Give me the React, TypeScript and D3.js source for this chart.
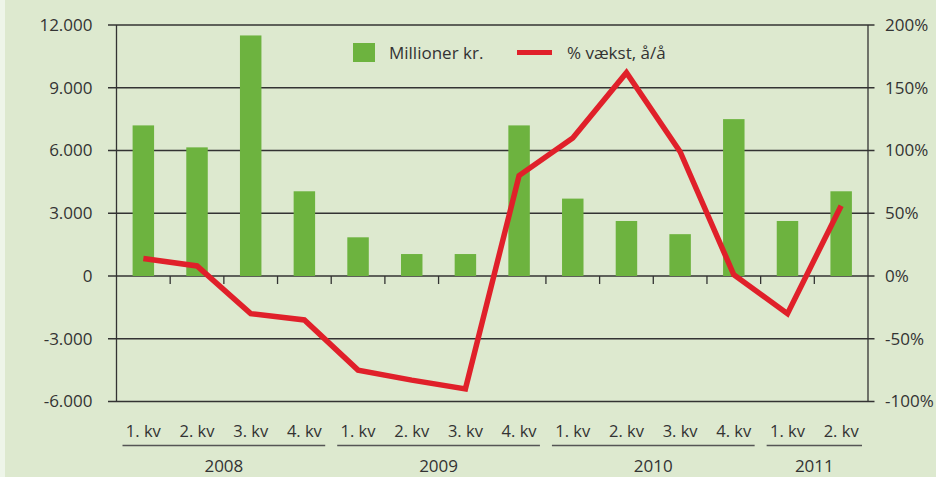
import React, { useRef, useEffect } from "react";
import * as d3 from "d3";

// quarterly data 2008 Q1 - 2011 Q2
const quarters = ["1. kv", "2. kv", "3. kv", "4. kv", "1. kv", "2. kv", "3. kv", "4. kv", "1. kv", "2. kv", "3. kv", "4. kv", "1. kv", "2. kv"];
const years = [
  { label: "2008", from: 0, to: 3 },
  { label: "2009", from: 4, to: 7 },
  { label: "2010", from: 8, to: 11 },
  { label: "2011", from: 12, to: 13 },
];
const millioner = [7200, 6150, 11500, 4050, 1850, 1050, 1050, 7200, 3700, 2630, 2000, 7500, 2630, 4050];
const vaekst = [14, 8, -30, -35, -75, -83, -90, 80, 110, 162, 99, 1, -30, 56];
const leftTicks = [-6000, -3000, 0, 3000, 6000, 9000, 12000];
const rightTicks = [-100, -50, 0, 50, 100, 150, 200];

const W = 936;
const H = 477;

function App() {
  const svgRef = useRef<SVGSVGElement>(null);

  useEffect(() => {
    const svg = d3.select(svgRef.current);
    svg.selectAll("*").remove();

    const margin = { top: 25, right: 68, bottom: 75.5, left: 116.5 };
    const innerW = W - margin.left - margin.right;
    const innerH = H - margin.top - margin.bottom;
    const font = "'Open Sans', 'Noto Sans', sans-serif";
    const ink = "#333";

    svg.append("rect").attr("width", W).attr("height", H).attr("fill", "#dde9cf");
    svg.append("rect").attr("width", 5).attr("height", H).attr("fill", "#eef5e9");

    const x = d3.scaleBand<number>().domain(d3.range(quarters.length)).range([0, innerW]).paddingInner(0.6).paddingOuter(0.3);
    const step = innerW / quarters.length;
    const yL = d3.scaleLinear().domain([-6000, 12000]).range([innerH, 0]);
    const yR = d3.scaleLinear().domain([-100, 200]).range([innerH, 0]);

    const g = svg.append("g").attr("transform", `translate(${margin.left},${margin.top})`);

    // gridlines
    g.selectAll(".grid")
      .data(leftTicks)
      .enter()
      .append("line")
      .attr("x1", -8.5)
      .attr("x2", innerW + 6.5)
      .attr("y1", (d) => yL(d))
      .attr("y2", (d) => yL(d))
      .attr("stroke", ink)
      .attr("stroke-width", 1.3);

    // axes verticals
    g.append("line").attr("x1", 0).attr("x2", 0).attr("y1", 0).attr("y2", innerH).attr("stroke", ink).attr("stroke-width", 1.3);
    g.append("line").attr("x1", innerW).attr("x2", innerW).attr("y1", 0).attr("y2", innerH).attr("stroke", ink).attr("stroke-width", 1.3);

    // category ticks on zero line
    g.selectAll(".ctick")
      .data(d3.range(1, quarters.length))
      .enter()
      .append("line")
      .attr("x1", (d) => d * step)
      .attr("x2", (d) => d * step)
      .attr("y1", yL(0))
      .attr("y2", yL(0) + 8)
      .attr("stroke", ink)
      .attr("stroke-width", 1.3);

    // bars
    g.selectAll(".bar")
      .data(millioner)
      .enter()
      .append("rect")
      .attr("x", (d, i) => x(i)!)
      .attr("width", x.bandwidth())
      .attr("y", (d) => yL(d))
      .attr("height", (d) => yL(0) - yL(d))
      .attr("fill", "#6db33f");

    // growth line
    const line = d3
      .line<number>()
      .x((d, i) => x(i)! + x.bandwidth() / 2)
      .y((d) => yR(d));
    g.append("path")
      .datum(vaekst)
      .attr("d", line)
      .attr("fill", "none")
      .attr("stroke", "#e0202a")
      .attr("stroke-width", 5.5)
      .attr("stroke-linejoin", "miter");

    // left tick labels
    g.selectAll(".ll")
      .data(leftTicks)
      .enter()
      .append("text")
      .attr("x", -24)
      .attr("y", (d) => yL(d))
      .attr("dy", "0.35em")
      .attr("text-anchor", "end")
      .attr("font-family", font)
      .attr("font-size", 17)
      .attr("fill", ink)
      .text((d) => d3.format(",")(d).replace(/,/g, ".").replace("−", "-"));

    // right tick labels
    g.selectAll(".rl")
      .data(rightTicks)
      .enter()
      .append("text")
      .attr("x", innerW + 17)
      .attr("y", (d) => yR(d))
      .attr("dy", "0.35em")
      .attr("text-anchor", "start")
      .attr("font-family", font)
      .attr("font-size", 17)
      .attr("fill", ink)
      .text((d) => `${d}%`);

    // quarter labels
    g.selectAll(".ql")
      .data(quarters)
      .enter()
      .append("text")
      .attr("x", (d, i) => (i + 0.5) * step)
      .attr("y", innerH + 35.5)
      .attr("text-anchor", "middle")
      .attr("font-family", font)
      .attr("font-size", 16.5)
      .attr("fill", ink)
      .text((d) => d);

    // year groups
    years.forEach((yr) => {
      g.append("line")
        .attr("x1", yr.from * step + 6)
        .attr("x2", (yr.to + 1) * step - 6)
        .attr("y1", innerH + 44)
        .attr("y2", innerH + 44)
        .attr("stroke", "#555")
        .attr("stroke-width", 1.5);
      g.append("text")
        .attr("x", ((yr.from + yr.to + 1) / 2) * step)
        .attr("y", innerH + 70)
        .attr("text-anchor", "middle")
        .attr("font-family", font)
        .attr("font-size", 17)
        .attr("fill", ink)
        .text(yr.label);
    });

    // legend
    const legend = svg.append("g").attr("transform", "translate(353, 43)");
    legend.append("rect").attr("width", 22).attr("height", 19).attr("fill", "#6db33f");
    legend
      .append("text")
      .attr("x", 36)
      .attr("y", 16)
      .attr("font-family", font)
      .attr("font-size", 17)
      .attr("fill", ink)
      .text("Millioner kr.");
    legend.append("line").attr("x1", 164).attr("x2", 199).attr("y1", 9.5).attr("y2", 9.5).attr("stroke", "#e0202a").attr("stroke-width", 5);
    legend
      .append("text")
      .attr("x", 214)
      .attr("y", 16)
      .attr("font-family", font)
      .attr("font-size", 17)
      .attr("fill", ink)
      .text("% vækst, å/å");
  }, []);

  return (
    <div style={{ position: "absolute", left: 0, top: 0, width: W, height: H }}>
      <svg ref={svgRef} width={W} height={H} style={{ display: "block" }}></svg>
    </div>
  );
}

export default App;
